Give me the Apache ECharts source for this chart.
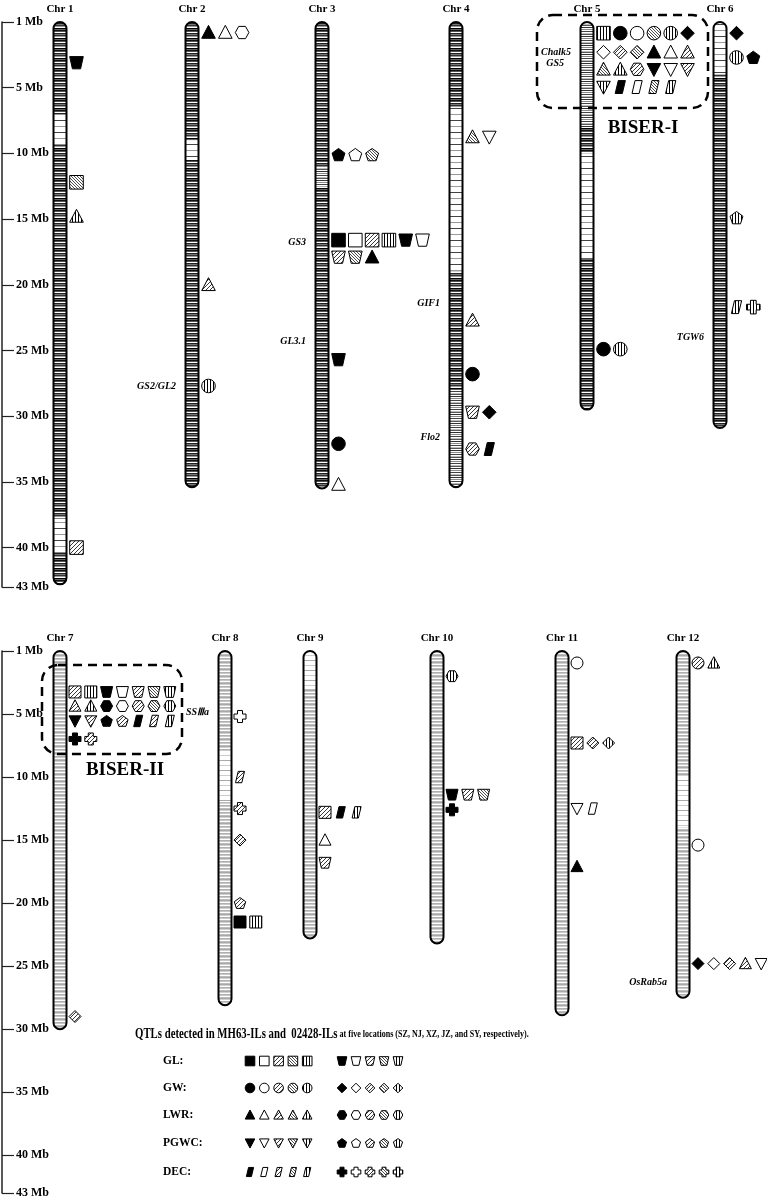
<!DOCTYPE html>
<html>
<head>
<meta charset="utf-8">
<script src="https://cdn.jsdelivr.net/npm/echarts@6/dist/echarts.min.js"></script>
<style>
html, body { margin: 0; padding: 0; background: #fff; }
#main { width: 767px; height: 1200px; }
</style>
</head>
<body>
<div id="main"></div>
<script>
// ---- data ----
const chrNames = ['Chr 1', 'Chr 2', 'Chr 3', 'Chr 4', 'Chr 5', 'Chr 6',
  'Chr 7', 'Chr 8', 'Chr 9', 'Chr 10', 'Chr 11', 'Chr 12'];
const chrLengths = [42.8, 35.4, 35.5, 35.4, 29.5, 30.9, 30.0, 28.1, 22.8, 23.2, 28.9, 27.5];
// coarse marker density along each chromosome: [start Mb, end Mb, kind]
const chrBands = [
  [[0, 7, 'd'], [7, 9.3, 'w'], [9.3, 37.8, 'd'], [37.8, 40.4, 'w'], [40.4, 42.8, 'd']],
  [[0, 9, 'd'], [9, 10.5, 'w'], [10.5, 35.4, 'd']],
  [[0, 11, 'd'], [11, 12.5, 'm'], [12.5, 35.5, 'd']],
  [[0, 6.5, 'd'], [6.5, 19, 'w'], [19, 28, 'd'], [28, 35.4, 'm']],
  [[0, 8, 'm'], [8, 10, 'd'], [10, 18, 'w'], [18, 29.5, 'd']],
  [[0, 4, 'w'], [4, 30.9, 'd']],
  [[0, 30.0, 'g']],
  [[0, 8, 'g'], [8, 12, 'h'], [12, 28.1, 'g']],
  [[0, 3, 'h'], [3, 22.8, 'g']],
  [[0, 23.2, 'g']],
  [[0, 28.9, 'g']],
  [[0, 10, 'g'], [10, 14, 'h'], [14, 27.5, 'g']]
];

const mbTicks = [0, 5, 10, 15, 20, 25, 30, 35, 40, 43];
const mbTickLabels = ['1 Mb', '5 Mb', '10 Mb', '15 Mb', '20 Mb', '25 Mb', '30 Mb', '35 Mb', '40 Mb', '43 Mb'];

const TRAITS = ['GL', 'GW', 'LWR', 'PGWC', 'DEC'];
// code = trait + population (m = MH63-ILs, z = 02428-ILs) + location 1..5 (SZ, NJ, XZ, JZ, SY)
const qtlChr = [
  0, 0, 0, 0,
  1, 1, 1,
  2, 2, 2, 2, 2, 2,
  3, 3, 3, 3, 3,
  4, 4, 4, 4, 4,
  5, 5, 5, 5,
  6, 6, 6, 6, 6,
  7, 7, 7, 7, 7, 7,
  8, 8, 8,
  9, 9, 9,
  10, 10, 10, 10,
  11, 11, 11
];
const qtlMb = [
  3.1, 12.2, 14.8, 40.0,
  0.8, 20.0, 27.7,
  10.1, 16.6, 17.9, 25.7, 32.1, 35.2,
  8.75, 22.7, 26.8, 29.7, 32.5,
  0.85, 2.3, 3.6, 4.95, 24.9,
  0.85, 2.7, 14.9, 21.7,
  3.25, 4.37, 5.55, 6.98, 29.0,
  5.2, 10.0, 12.5, 15.0, 20.0, 21.5,
  12.8, 15.0, 16.8,
  2.0, 11.4, 12.6,
  0.95, 7.3, 12.5, 17.1,
  0.95, 15.4, 24.8
];
const qtlCodes = [
  'GLz1', 'GLm4', 'LWRm5', 'GLm3',
  'LWRm1 LWRm2 LWRz2', 'LWRm3', 'GWm5',
  'PGWCz1 PGWCz2 PGWCz4', 'GLm1 GLm2 GLm3 GLm5 GLz1 GLz2', 'GLz3 GLz4 LWRm1', 'GLz1', 'GWm1', 'LWRm2',
  'LWRm4 PGWCm2', 'LWRm3', 'GWm1', 'GLz3 GWz1', 'LWRz3 DECm1',
  'GLm5 GWm1 GWm2 GWm4 GWm5 GWz1', 'GWz2 GWz3 GWz4 LWRm1 LWRm2 LWRm3',
  'LWRm4 LWRm5 LWRz3 PGWCm1 PGWCm2 PGWCm3', 'PGWCm5 DECm1 DECm2 DECm4 DECm5', 'GWm1 GWm5',
  'GWz1', 'GWm5 PGWCz1', 'PGWCz5', 'DECm5 DECz5',
  'GLm3 GLm5 GLz1 GLz2 GLz3 GLz4 GLz5', 'LWRm3 LWRm5 LWRz1 LWRz2 LWRz3 LWRz4 LWRz5',
  'PGWCm1 PGWCm3 PGWCz1 PGWCz3 DECm1 DECm3 DECm5', 'DECz1 DECz3', 'GWz3',
  'DECz2', 'DECm3', 'DECz3', 'GWz3', 'PGWCz3', 'GLm1 GLm5',
  'GLm3 DECm1 DECm5', 'LWRm2', 'GLz3',
  'LWRz5', 'GLz1 GLz3 GLz4', 'DECz1',
  'GWm2', 'GLm3 GWz3 GWz5', 'PGWCm2 DECm2', 'LWRm1',
  'GWm3 LWRm5', 'GWm2', 'GWz1 GWz2 GWz3 LWRm3 PGWCm2'
];

const geneNames = ['Chalk5', 'GS5', 'GS2/GL2', 'GS3', 'GL3.1', 'GIF1', 'Flo2', 'TGW6', 'SSⅢa', 'OsRab5a'];
const geneChr = [4, 4, 1, 2, 2, 3, 3, 5, 7, 11];
const geneMb = [2.3, 3.15, 27.7, 16.8, 24.3, 21.4, 31.6, 24.0, 4.9, 26.3];

// ---- layout ----
const chrX = [60, 192, 322, 456, 587, 720, 60, 225, 310, 437, 562, 683];
const geneShift = [0, -7, 0, 0, 0, 0, 0, 0, 0, 0];
const panelChrs = [[0, 1, 2, 3, 4, 5], [6, 7, 8, 9, 10, 11]];
const symSize = [6.8, 6.0];
const symFirst = [16.5, 15];
const symStep = [16.8, 15.8];
const SERIF = '"Liberation Serif", "Times New Roman", serif';

// ---- fills ----
function makePattern(w, h, draw) {
  const c = document.createElement('canvas');
  c.width = w; c.height = h;
  const ctx = c.getContext('2d');
  ctx.fillStyle = '#fff';
  ctx.fillRect(0, 0, w, h);
  draw(ctx);
  return { image: c, repeat: 'repeat' };
}
function stripes(colors) {
  return makePattern(4, colors.length, ctx => {
    colors.forEach((col, i) => { ctx.fillStyle = col; ctx.fillRect(0, i, 4, 1); });
  });
}
const BAND_FILL = {
  d: stripes(['#111', '#555', '#fff', '#222', '#777', '#333', '#999', '#fff', '#000', '#666']),
  m: stripes(['#333', '#fff', '#888', '#fff', '#444', '#fff', '#bbb', '#555', '#fff']),
  w: stripes(['#444', '#fff', '#fff', '#fff', '#fff', '#fff', '#999', '#fff', '#fff', '#fff', '#fff', '#fff']),
  g: stripes(['#b0b0b0', '#c8c8c8', '#fff', '#bcbcbc', '#a8a8a8', '#d0d0d0', '#fff']),
  h: stripes(['#aaa', '#fff', '#fff', '#fff', '#fff', '#ccc', '#fff', '#fff', '#fff', '#fff'])
};
const hatchA = makePattern(4, 4, ctx => {
  ctx.strokeStyle = '#222'; ctx.lineWidth = 0.9;
  ctx.beginPath();
  ctx.moveTo(0, 4); ctx.lineTo(4, 0);
  ctx.moveTo(-1, 1); ctx.lineTo(1, -1);
  ctx.moveTo(3, 5); ctx.lineTo(5, 3);
  ctx.stroke();
});
const hatchB = makePattern(3, 3, ctx => {
  ctx.strokeStyle = '#222'; ctx.lineWidth = 0.8;
  ctx.beginPath();
  ctx.moveTo(0, 0); ctx.lineTo(3, 3);
  ctx.moveTo(-1, 2); ctx.lineTo(1, 4);
  ctx.moveTo(2, -1); ctx.lineTo(4, 1);
  ctx.stroke();
});
const vLines = makePattern(3, 2, ctx => { ctx.fillStyle = '#000'; ctx.fillRect(0, 0, 1, 2); });
const LOC_FILL = ['#000', '#fff', hatchA, hatchB, vLines];

const SHAPES = {
  GL: { m: 'square', z: 'trapezoid' },
  GW: { m: 'circle', z: 'diamond' },
  LWR: { m: 'triangle', z: 'hexagon' },
  PGWC: { m: 'invTriangle', z: 'pentagon' },
  DEC: { m: 'parallelogram', z: 'cross' }
};
const a = 0.42;
const POLY = {
  triangle: [[0, -1.05], [1.0, 0.85], [-1.0, 0.85]],
  invTriangle: [[-1.0, -0.85], [1.0, -0.85], [0, 1.05]],
  trapezoid: [[-1, -0.9], [1, -0.9], [0.6, 0.9], [-0.6, 0.9]],
  diamond: [[0, -1], [1, 0], [0, 1], [-1, 0]],
  hexagon: [[-1, 0], [-0.5, -0.9], [0.5, -0.9], [1, 0], [0.5, 0.9], [-0.5, 0.9]],
  pentagon: [0, 1, 2, 3, 4].map(k => {
    const t = (-90 + 72 * k) * Math.PI / 180;
    return [Math.cos(t), Math.sin(t) + 0.08];
  }),
  parallelogram: [[-0.3, -0.95], [0.75, -0.95], [0.3, 0.95], [-0.75, 0.95]],
  cross: [[-a, -1], [a, -1], [a, -a], [1, -a], [1, a], [a, a], [a, 1], [-a, 1], [-a, a], [-1, a], [-1, -a], [-a, -a]]
};

function symbolEl(code, cx, cy, h) {
  const trait = code.slice(0, -2);
  const pop = code[code.length - 2];
  const loc = +code[code.length - 1];
  const shape = SHAPES[trait][pop];
  const style = { fill: LOC_FILL[loc - 1], stroke: '#000', lineWidth: 1 };
  if (shape === 'circle') return { type: 'circle', shape: { cx, cy, r: h }, style };
  if (shape === 'square') return { type: 'rect', shape: { x: cx - h, y: cy - h, width: 2 * h, height: 2 * h }, style };
  return { type: 'polygon', shape: { points: POLY[shape].map(([u, v]) => [cx + u * h, cy + v * h]) }, style };
}

// ---- renderers ----
function renderChr(params, api) {
  const ci = api.value(2);
  const cx = api.coord([api.value(0), 0])[0];
  const w = 13, r = w / 2;
  const top = api.coord([0, 0])[1];
  const bottom = api.coord([0, chrLengths[ci]])[1];
  const bands = chrBands[ci];
  const children = bands.map(([s, e, t], k) => {
    const y0 = api.coord([0, s])[1], y1 = api.coord([0, e])[1];
    const rt = k === 0 ? r : 0, rb = k === bands.length - 1 ? r : 0;
    return { type: 'rect', shape: { x: cx - r, y: y0, width: w, height: y1 - y0, r: [rt, rt, rb, rb] }, style: { fill: BAND_FILL[t] } };
  });
  children.push({ type: 'rect', shape: { x: cx - r, y: top, width: w, height: bottom - top, r }, style: { fill: 'none', stroke: '#000', lineWidth: 2 } });
  children.push({
    type: 'text',
    style: { text: chrNames[ci], x: cx, y: api.coord([0, -1.0])[1], textAlign: 'center', textVerticalAlign: 'middle', fill: '#000', font: 'bold 11px ' + SERIF }
  });
  return { type: 'group', children };
}

function makeQtlRenderer(panel) {
  return function (params, api) {
    const k = api.value(2);
    const p = api.coord([api.value(0), api.value(1)]);
    const children = qtlCodes[k].split(' ').map((c, j) =>
      symbolEl(c, p[0] + symFirst[panel] + j * symStep[panel], p[1], symSize[panel]));
    return { type: 'group', children };
  };
}

function renderGene(params, api) {
  const k = api.value(2);
  const p = api.coord([api.value(0), api.value(1)]);
  return {
    type: 'text',
    style: { text: geneNames[k], x: p[0] - 16 + geneShift[k], y: p[1], textAlign: 'right', textVerticalAlign: 'middle', fill: '#000', font: 'italic bold 10px ' + SERIF }
  };
}

// ---- series ----
const series = [];
[0, 1].forEach(panel => {
  const chrs = panelChrs[panel];
  series.push({
    type: 'custom', xAxisIndex: panel, yAxisIndex: panel, silent: true,
    renderItem: renderChr,
    data: chrs.map(i => [chrX[i], 0, i])
  });
  const qi = qtlChr.map((c, k) => k).filter(k => chrs.includes(qtlChr[k]));
  series.push({
    type: 'custom', xAxisIndex: panel, yAxisIndex: panel, silent: true, z: 3,
    renderItem: makeQtlRenderer(panel),
    data: qi.map(k => [chrX[qtlChr[k]], qtlMb[k], k])
  });
  const gi = geneChr.map((c, k) => k).filter(k => chrs.includes(geneChr[k]));
  series.push({
    type: 'custom', xAxisIndex: panel, yAxisIndex: panel, silent: true, z: 3,
    renderItem: renderGene,
    data: gi.map(k => [chrX[geneChr[k]], geneMb[k], k])
  });
});

// ---- graphic: BISER boxes and legend ----
const graphic = [
  { type: 'rect', z: 100, shape: { x: 537, y: 15, width: 171, height: 93, r: 16 }, style: { fill: 'none', stroke: '#000', lineWidth: 2.5, lineDash: [9, 6] } },
  { type: 'text', z: 100, style: { text: 'BISER-I', x: 643, y: 128, textAlign: 'center', textVerticalAlign: 'middle', fill: '#000', font: 'bold 19px ' + SERIF } },
  { type: 'rect', z: 100, shape: { x: 42, y: 665, width: 140, height: 89, r: 16 }, style: { fill: 'none', stroke: '#000', lineWidth: 2.5, lineDash: [9, 6] } },
  { type: 'text', z: 100, style: { text: 'BISER-II', x: 125, y: 770, textAlign: 'center', textVerticalAlign: 'middle', fill: '#000', font: 'bold 19px ' + SERIF } },
  {
    type: 'text', z: 100, x: 135, y: 1034, scaleX: 0.77,
    style: {
      text: '{a|QTLs detected in MH63-ILs and  02428-ILs}{b| at five locations (SZ, NJ, XZ, JZ, and SY, respectively).}',
      x: 0, y: 0, textAlign: 'left', textVerticalAlign: 'middle',
      rich: {
        a: { fontFamily: SERIF, fontWeight: 'bold', fontSize: 14, fill: '#000' },
        b: { fontFamily: SERIF, fontWeight: 'bold', fontSize: 10.5, fill: '#000' }
      }
    }
  }
];
const legendY = [1061, 1088, 1115, 1143, 1172];
TRAITS.forEach((t, r) => {
  graphic.push({ type: 'text', z: 100, style: { text: t + ':', x: 163, y: legendY[r], textAlign: 'left', textVerticalAlign: 'middle', fill: '#000', font: 'bold 11.5px ' + SERIF } });
  [1, 2, 3, 4, 5].forEach((loc, j) => {
    graphic.push(Object.assign(symbolEl(t + 'm' + loc, 250 + j * 14.3, legendY[r], 4.8), { z: 100 }));
    graphic.push(Object.assign(symbolEl(t + 'z' + loc, 342 + j * 14, legendY[r], 4.8), { z: 100 }));
  });
});

const option = {
  animation: false,
  backgroundColor: '#fff',
  grid: [
    { left: 2, right: 0, top: 22, height: 565, outerBoundsMode: 'none' },
    { left: 2, right: 0, top: 651, height: 542, outerBoundsMode: 'none' }
  ],
  xAxis: [0, 1].map(g => ({ type: 'value', gridIndex: g, min: 2, max: 767, show: false })),
  yAxis: [0, 1].map(g => ({
    type: 'value', gridIndex: g, inverse: true, min: 0, max: 43, interval: 5,
    axisLine: { show: true, lineStyle: { color: '#222', width: 1.5 } },
    axisTick: { show: true, inside: true, length: 12, lineStyle: { color: '#222', width: 1.2 } },
    axisLabel: {
      inside: true, margin: 14, color: '#000', fontFamily: SERIF, fontWeight: 'bold', fontSize: 12,
      formatter: v => { const i = mbTicks.indexOf(v); return i < 0 ? '' : mbTickLabels[i]; }
    },
    splitLine: { show: false }
  })),
  series,
  graphic
};

const chart = echarts.init(document.getElementById('main'));
chart.setOption(option);
</script>
</body>
</html>
